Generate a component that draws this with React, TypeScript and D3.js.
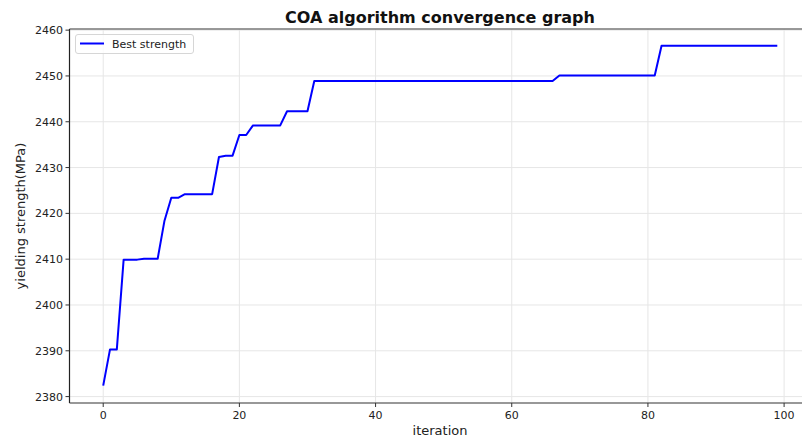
import React from "react";
import * as d3 from "d3";

const iterations: number[] = Array.from({ length: 100 }, (_, i) => i);
const bestStrength: number[] = [
  2382.4, 2390.3, 2390.3, 2409.9, 2409.9, 2409.9, 2410.1, 2410.1, 2410.1, 2418.4,
  2423.4, 2423.4, 2424.2, 2424.2, 2424.2, 2424.2, 2424.2, 2432.3, 2432.6, 2432.6,
  2437.1, 2437.1, 2439.2, 2439.2, 2439.2, 2439.2, 2439.2, 2442.3, 2442.3, 2442.3,
  2442.3, 2448.9, 2448.9, 2448.9, 2448.9, 2448.9, 2448.9, 2448.9, 2448.9, 2448.9,
  2448.9, 2448.9, 2448.9, 2448.9, 2448.9, 2448.9, 2448.9, 2448.9, 2448.9, 2448.9,
  2448.9, 2448.9, 2448.9, 2448.9, 2448.9, 2448.9, 2448.9, 2448.9, 2448.9, 2448.9,
  2448.9, 2448.9, 2448.9, 2448.9, 2448.9, 2448.9, 2448.9, 2450.1, 2450.1, 2450.1,
  2450.1, 2450.1, 2450.1, 2450.1, 2450.1, 2450.1, 2450.1, 2450.1, 2450.1, 2450.1,
  2450.1, 2450.1, 2456.6, 2456.6, 2456.6, 2456.6, 2456.6, 2456.6, 2456.6, 2456.6,
  2456.6, 2456.6, 2456.6, 2456.6, 2456.6, 2456.6, 2456.6, 2456.6, 2456.6, 2456.6,
];
const xTicks: number[] = [0, 20, 40, 60, 80, 100];
const yTicks: number[] = [2380, 2390, 2400, 2410, 2420, 2430, 2440, 2450, 2460];

const title = "COA algorithm convergence graph";
const xLabel = "iteration";
const yLabel = "yielding strength(MPa)";
const legendLabel = "Best strength";

export default function App() {
  const W = 802;
  const H = 439;
  const left = 69.5;
  const right = 811;
  const top = 29;
  const bottom = 403;
  const font = "'DejaVu Sans', sans-serif";

  const x = d3.scaleLinear().domain([-4.95, 103.95]).range([left, right]);
  const y = d3.scaleLinear().domain([2378.6, 2460.25]).range([bottom, top]);

  const line = d3
    .line<number>()
    .x((_, i) => x(iterations[i]))
    .y((d) => y(d));

  return (
    <svg
      width={W}
      height={H}
      style={{ position: "absolute", left: 0, top: 0, background: "#fff" }}
      fontFamily={font}
    >
      <rect x={0} y={0} width={W} height={H} fill="#fff" />
      {/* grid */}
      {xTicks.map((t) => (
        <line key={"gx" + t} x1={x(t)} x2={x(t)} y1={top} y2={bottom} stroke="#e6e6e6" strokeWidth={1} />
      ))}
      {yTicks.map((t) => (
        <line key={"gy" + t} x1={left} x2={right} y1={y(t)} y2={y(t)} stroke="#e6e6e6" strokeWidth={1} />
      ))}
      {/* data line */}
      <path d={line(bestStrength) || ""} fill="none" stroke="#0000ff" strokeWidth={2} strokeLinejoin="round" />
      {/* spines */}
      <line x1={left} x2={right} y1={top} y2={top} stroke="#777" strokeWidth={1.6} />
      <line x1={left} x2={left} y1={top} y2={bottom} stroke="#222" strokeWidth={1.2} />
      <line x1={left} x2={right} y1={bottom} y2={bottom} stroke="#333" strokeWidth={1.2} />
      {/* x ticks */}
      {xTicks.map((t) => (
        <g key={"xt" + t}>
          <line x1={x(t)} x2={x(t)} y1={bottom} y2={bottom + 4} stroke="#333" strokeWidth={1} />
          <text x={x(t)} y={bottom + 16} textAnchor="middle" fontSize={11} fill="#222">
            {t}
          </text>
        </g>
      ))}
      {/* y ticks */}
      {yTicks.map((t) => (
        <g key={"yt" + t}>
          <line x1={left - 4} x2={left} y1={y(t)} y2={y(t)} stroke="#333" strokeWidth={1} />
          <text x={left - 6.5} y={y(t) + 4} textAnchor="end" fontSize={11} fill="#222">
            {t}
          </text>
        </g>
      ))}
      {/* title */}
      <text x={440} y={23} textAnchor="middle" fontSize={16} fontWeight="bold" fill="#111">
        {title}
      </text>
      {/* axis labels */}
      <text x={440} y={435} textAnchor="middle" fontSize={13} fill="#222">
        {xLabel}
      </text>
      <text
        transform={`translate(25, ${(top + bottom) / 2}) rotate(-90)`}
        textAnchor="middle"
        fontSize={13}
        fill="#222"
      >
        {yLabel}
      </text>
      {/* legend */}
      <rect x={75.5} y={34.5} width={118} height={19} rx={2.5} fill="#fff" fillOpacity={0.8} stroke="#d6d6d6" strokeWidth={1} />
      <line x1={80} x2={104} y1={43.5} y2={43.5} stroke="#0000ff" strokeWidth={2} />
      <text x={112} y={47.5} fontSize={11} fill="#222">
        {legendLabel}
      </text>
    </svg>
  );
}
